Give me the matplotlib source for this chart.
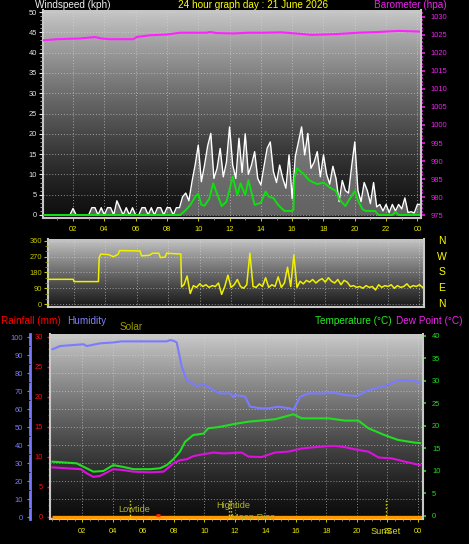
import numpy as np
import matplotlib
matplotlib.use("Agg")
import matplotlib.pyplot as plt
from matplotlib.ticker import MultipleLocator
from matplotlib import transforms

plt.rcParams['font.family'] = ['Liberation Sans', 'DejaVu Sans']

W, H = 469, 544

# ---- data ----
hour_ticks = [2, 4, 6, 8, 10, 12, 14, 16, 18, 20, 22, 24]
hour_labels = ["02", "04", "06", "08", "10", "12", "14", "16", "18", "20", "22", "00"]

# wind gust (kph), one sample every 0.2 h from 00:00
gust = [0, 0, 0, 0, 0, 0, 0, 0, 0, 0, 1.6, 0, 0, 0, 0, 0,
        1.8, 1.8, 0, 1.8, 0, 1.8, 1.8, 0, 3.5, 1.8, 0, 1.8, 0, 1.8, 0, 0,
        1.8, 1.8, 0, 1.8, 0, 1.8, 1.8, 0, 1.8, 1.8, 0, 1.8, 1.8,
        4.5, 5.4, 3.5, 8.2, 12.3, 17.2, 8.2, 12.3, 17.0, 20.1,
        9.0, 11.5, 16.4, 9.4, 13.0, 21.7, 12.3, 9.0, 18.9, 10.5,
        20.0, 10.0, 12.3, 15.6, 9.0, 7.4, 12.0, 16.4, 18.0, 10.7,
        8.0, 12.3, 9.0, 6.6, 14.8, 4.0, 14.4, 18.0, 21.7, 14.8,
        20.1, 11.5, 13.0, 15.6, 9.4, 14.8, 10.0, 7.6, 12.0, 9.0,
        3.3, 8.5, 6.0, 5.4, 12.0, 18.0, 6.0, 3.3, 8.0, 6.0,
        2.8, 8.0, 2.0, 2.6, 1.0, 2.6, 0.6, 2.6, 1.0, 2.6,
        1.5, 4.2, 0.6, 0.8, 0.5, 2.6, 2.6]
gust_t = np.arange(len(gust)) * 0.2

# average wind speed (kph)
avg_t = [0, 8.84, 9.2, 9.5, 9.8, 10.0, 10.2, 10.4, 10.7, 10.95, 11.3, 11.5, 11.8, 12.2,
         12.5, 12.7, 13.0, 13.2, 13.6, 14.0, 14.3, 14.5, 14.8, 15.1, 15.5, 15.9, 16.08,
         16.15, 16.3, 16.7, 17.1, 17.6, 18.0, 18.4, 18.8, 19.0, 19.4, 19.6, 20.0, 20.2,
         20.5, 20.7, 21.3, 21.5, 22.4, 22.6, 22.8, 24.2]
avg = [0, 0, 1.2, 2.5, 4.5, 5.2, 2.5, 2.3, 4.0, 7.8, 4.2, 2.2, 3.3, 9.4,
       4.9, 7.8, 4.9, 8.6, 2.5, 3.0, 5.8, 4.5, 4.2, 2.5, 1.0, 1.0, 1.2,
       9.1, 11.5, 10.2, 8.5, 7.6, 8.0, 6.8, 5.9, 3.9, 2.2, 3.5, 5.9, 3.5,
       1.4, 1.0, 1.0, 0, 0, 0.8, 0, 0]

# barometer (hpa)
baro_t = [0.1, 0.96, 2.45, 3.4, 3.8, 4.36, 5.85, 6.07, 6.92, 7.99, 8.84, 10.54, 10.75,
          11.18, 12.24, 13.2, 14.06, 15.3, 16.2, 17.25, 18.74, 20.2, 21.5, 22.8, 24.2]
baro = [1023.5, 1023.8, 1024.0, 1024.4, 1024.0, 1023.8, 1023.8, 1024.4, 1024.9, 1025.1,
        1025.6, 1025.6, 1025.8, 1025.5, 1025.4, 1025.6, 1025.6, 1025.7, 1025.4, 1025.0,
        1025.2, 1025.6, 1025.8, 1026.1, 1025.9]

# wind direction (deg)
dir_early_t = [0.36, 1.95, 2.0, 3.55, 3.6, 3.7, 4.2, 4.5, 4.8, 4.9, 6.2, 6.3, 6.8, 7.0,
               7.4, 7.5, 7.8, 7.9, 8.8, 8.85]
dir_early = [141, 141, 128, 128, 265, 285, 282, 270, 283, 305, 303, 275, 278, 290,
             290, 265, 268, 290, 285, 98]
# from 09:00, one sample every 0.2 h
dir_late = [110, 160, 60, 105, 95, 115, 100, 110, 95, 105,
            100, 120, 55, 100, 165, 95, 110, 140, 100, 90,
            110, 290, 100, 95, 115, 100, 150, 95, 110, 100,
            155, 95, 120, 210, 100, 280, 95, 130, 115, 135,
            125, 140, 120, 135, 145, 125, 150, 130, 120, 140,
            110, 135, 125, 100, 105, 95, 100, 90, 105, 95,
            100, 80, 110, 95, 105, 100, 110, 90, 105, 95,
            100, 115, 95, 105, 100, 110, 95]
dir_late_t = 9.0 + np.arange(len(dir_late)) * 0.2

# humidity (%)
hum_t = [0.04, 0.54, 1.3, 2.07, 2.29, 3.16, 4.03, 4.58, 7.53, 7.75, 7.97, 8.19, 8.52, 8.84,
         9.28, 9.5, 9.94, 10.59, 11.03, 11.68, 11.9, 12.01, 12.67, 13.0, 13.76, 14.2, 14.85,
         15.62, 15.84, 16.28, 16.82, 17.7, 18.57, 19.23, 20.0, 20.76, 21.85, 22.73, 23.82, 24.15]
hum = [93.2, 95, 95.5, 96, 95, 96.5, 97, 97.6, 97.6, 98.3, 98, 97, 83.5, 76,
       74, 72.4, 74, 70.5, 68.7, 68.7, 66.5, 67.8, 67, 61.3, 60.4, 60.4, 61.3,
       60.4, 59.4, 66.8, 68.7, 68.7, 69, 67.8, 67.2, 70.5, 72.8, 76, 75.7, 74.3]

# temperature (C)
temp_t = [0.04, 0.97, 1.63, 2.28, 2.72, 3.38, 4.03, 4.69, 5.34, 6.44, 7.1, 7.53, 7.97, 8.4,
          8.74, 9.28, 9.94, 10.26, 10.81, 11.47, 11.9, 12.9, 14.64, 15.84, 16.39, 18.14,
          19.23, 20.1, 20.76, 21.8, 22.7, 23.8, 24.15]
temp = [12.07, 11.85, 11.7, 10.6, 9.85, 10.0, 11.3, 10.9, 10.4, 10.4, 10.6, 11.3, 12.6, 14.3,
        16.5, 18.0, 18.3, 19.5, 19.7, 20.1, 20.4, 20.96, 21.5, 22.6, 21.7, 21.7,
        21.2, 21.2, 19.5, 18.0, 16.9, 16.3, 16.2]

# dew point (C)
dew_t = [0.04, 0.97, 1.9, 2.28, 2.72, 3.16, 4.03, 4.69, 5.34, 6.44, 7.32, 7.97, 8.4, 8.84,
         9.28, 9.72, 10.59, 11.25, 11.9, 12.45, 12.9, 13.76, 14.64, 15.5, 16.39, 17.26,
         18.14, 18.57, 19.23, 19.89, 20.76, 21.42, 22.29, 23.16, 24.15]
dew = [10.8, 10.6, 10.4, 9.5, 8.7, 8.9, 10.4, 10.2, 9.85, 9.7, 9.85, 11.7, 12.4, 12.6,
       13.3, 13.6, 14.1, 13.9, 14.0, 14.1, 13.2, 13.1, 14.1, 14.3, 15.0, 15.3,
       15.55, 15.6, 15.3, 14.8, 14.3, 13.0, 12.8, 12.07, 11.3]

# rainfall (mm)
rain_t = [0.0, 24.34]
rain = [0.0, 0.0]
rain_rate_t = [6.8, 7.1]
rain_rate = [0.3, 0.3]

event_names = ["Lowtide", "Hightide", "Moon Rise", "SunSet"]
event_hours = [5.13, 11.62, 11.75, 21.9]

# ---- helpers ----
fig = plt.figure(figsize=(W / 100, H / 100), dpi=100, facecolor='black')


def box(l, t, r, b):
    return fig.add_axes([l / W, 1 - b / H, (r - l) / W, (b - t) / H])


def shade(ax, top, bottom, gamma=1.3):
    f = np.linspace(0, 1, 300)[:, None]
    v = bottom + (top - bottom) * f ** gamma
    ax.imshow(v, extent=(0, 1, 0, 1), transform=ax.transAxes, origin='lower',
              cmap='gray', vmin=0, vmax=1, aspect='auto', zorder=0,
              interpolation='bilinear')


def grid(ax):
    ax.grid(True, which='major', color='#d8d8d8', ls=(0, (1, 2)), lw=0.7, alpha=0.6)
    ax.set_axisbelow(False)


BORDER = '#c8c8c8'
TICK = 5.4

# ---- panel 1: wind speed + barometer ----
ax1 = box(43, 10, 421, 218)
shade(ax1, 0.78, 0.06)
ax1.fill_between(gust_t, 0, gust, color='#a8a8a8', alpha=0.55, lw=0, zorder=2)
ax1.plot(gust_t, gust, color='white', lw=1.0, zorder=3)
ax1.plot(avg_t, avg, color='#11dd11', lw=1.4, zorder=4)
ax1.set_xlim(0.08, 24.23)
ax1.set_ylim(-0.74, 50.5)
ax1.yaxis.set_major_locator(MultipleLocator(5))
ax1.yaxis.set_minor_locator(MultipleLocator(1))
ax1.set_xticks(hour_ticks, hour_labels)
ax1.xaxis.set_minor_locator(MultipleLocator(1))
ax1.tick_params(axis='y', colors='#e6e6e6', labelsize=TICK, length=3, width=0.8, pad=1.5)
ax1.tick_params(axis='y', which='minor', colors='#b8b8b8', length=2, width=0.6)
ax1.tick_params(axis='x', colors='#e8e800', labelsize=TICK, length=2, width=0.6, pad=4)
ax1.tick_params(axis='x', which='minor', colors='#909090', length=1.5, width=0.6)
grid(ax1)
for s in ['top', 'right']:
    ax1.spines[s].set_visible(False)
for s in ['left', 'bottom']:
    ax1.spines[s].set_color(BORDER)
    ax1.spines[s].set_linewidth(1.5)

ax1b = ax1.twinx()
ax1b.plot(baro_t, baro, color='#ff22ff', lw=1.5)
ax1b.set_ylim(974.2, 1031.9)
ax1b.yaxis.set_major_locator(MultipleLocator(5))
ax1b.yaxis.set_minor_locator(MultipleLocator(1))
ax1b.tick_params(axis='y', colors='#ee22ee', labelsize=TICK, length=3, width=1.2, pad=4)
ax1b.tick_params(axis='y', which='minor', colors='#cc22cc', length=1.5, width=1.2)
for s in ['top', 'left', 'bottom']:
    ax1b.spines[s].set_visible(False)
ax1b.spines['right'].set_color(BORDER)
ax1b.spines['right'].set_linewidth(1.5)

# ---- panel 2: wind direction ----
ax2 = box(48, 239, 424, 307)
shade(ax2, 0.77, 0.1, 1.1)
ax2.plot(dir_early_t + list(dir_late_t), dir_early + dir_late, color='#f0f000', lw=1.1, zorder=3)
ax2.set_xlim(0.34, 24.29)
ax2.set_ylim(-17, 371)
ax2.set_yticks([0, 90, 180, 270, 360])
ax2.yaxis.set_minor_locator(MultipleLocator(30))
ax2.set_xticks(hour_ticks)
ax2.tick_params(axis='x', labelbottom=False, length=0)
ax2.tick_params(axis='y', colors='#c8c800', labelsize=TICK, length=3, width=0.8, pad=1.5)
ax2.tick_params(axis='y', which='minor', colors='#a0a000', length=2, width=0.6)
grid(ax2)
for s in ['top']:
    ax2.spines[s].set_visible(False)
for s in ['left', 'bottom', 'right']:
    ax2.spines[s].set_color(BORDER)
    ax2.spines[s].set_linewidth(1.5)
blend = transforms.blended_transform_factory(ax2.transAxes, ax2.transData)
for deg, letter in zip([360, 270, 180, 90, 0], ["N", "W", "S", "E", "N"]):
    ax2.text(1.047, deg, letter, transform=blend, color='#ffff00', fontsize=7.5,
             ha='center', va='center')

# ---- panel 3: humidity / rain / temperature / dew point ----
ax3 = box(50, 334, 423, 519)
shade(ax3, 0.79, 0.05)
ax3.plot(hum_t, hum, color='#7b7bff', lw=1.5, zorder=3)
ax3.set_xlim(-0.12, 24.34)
ax3.set_ylim(-1.1, 101.7)
ax3.yaxis.set_major_locator(MultipleLocator(10))
ax3.yaxis.set_minor_locator(MultipleLocator(5))
ax3.set_xticks(hour_ticks, hour_labels)
ax3.xaxis.set_minor_locator(MultipleLocator(0.5))
ax3.tick_params(axis='y', colors='#7b7bff', labelsize=TICK, length=2.5, width=0.8, pad=2.5)
ax3.tick_params(axis='y', which='minor', length=1.5, width=0.6)
ax3.tick_params(axis='x', colors='#e8e800', labelsize=TICK, length=2, width=0.6, pad=4.5)
ax3.tick_params(axis='x', which='minor', colors='#909090', length=1.5, width=0.6)
grid(ax3)
ax3.spines['left'].set_position(('outward', 14.4))
ax3.spines['left'].set_color('#7878ff')
ax3.spines['left'].set_linewidth(2)
ax3.spines['bottom'].set_color(BORDER)
ax3.spines['bottom'].set_linewidth(1.5)
for s in ['top', 'right']:
    ax3.spines[s].set_visible(False)

ax_r = ax3.twinx()
ax_r.yaxis.tick_left()
ax_r.yaxis.set_label_position('left')
ax_r.plot(rain_t, rain, color='#ff9900', lw=2.4, solid_capstyle='butt')
ax_r.plot(rain_rate_t, rain_rate, color='#ff2200', lw=2, solid_capstyle='butt')
ax_r.set_ylim(-0.38, 30.45)
ax_r.yaxis.set_major_locator(MultipleLocator(5))
ax_r.yaxis.set_minor_locator(MultipleLocator(1))
ax_r.tick_params(axis='y', colors='#ff1010', labelsize=TICK, length=2.5, width=1, pad=2.5)
ax_r.tick_params(axis='y', which='minor', colors='#cc1010', length=1.5, width=0.8)
for s in ['top', 'right', 'bottom']:
    ax_r.spines[s].set_visible(False)
ax_r.spines['left'].set_color(BORDER)
ax_r.spines['left'].set_linewidth(1.5)

ax_t = ax3.twinx()
ax_t.plot(temp_t, temp, color='#22dd22', lw=1.5)
ax_t.plot(dew_t, dew, color='#dd11dd', lw=1.5)
ax_t.set_ylim(-0.67, 40.44)
ax_t.yaxis.set_major_locator(MultipleLocator(5))
ax_t.yaxis.set_minor_locator(MultipleLocator(2.5))
ax_t.tick_params(axis='y', colors='#22dd22', labelsize=TICK, length=2.5, width=1.2, pad=4)
ax_t.tick_params(axis='y', which='minor', length=2.5, width=1.2)
for s in ['top', 'left', 'bottom']:
    ax_t.spines[s].set_visible(False)
ax_t.spines['right'].set_color(BORDER)
ax_t.spines['right'].set_linewidth(1.5)

# events (tides, moon, sun)
text_offsets = [(4, 9), (4, 14), (22, 2), (0, -12)]
for name, h, off in zip(event_names, event_hours, text_offsets):
    ax_t.axvline(h, ymin=0, ymax=0.103, color='#e0e000', ls=(0, (1, 1.5)), lw=1)
    col = '#d8d820' if name == "SunSet" else '#b0b428'
    ax_t.annotate(name, xy=(h, 0), xycoords=('data', 'axes fraction'),
                  xytext=off, textcoords='offset pixels', color=col,
                  fontsize=6.7, ha='center', va='center', annotation_clip=False)

# ---- titles ----
def label(x, y, s, c, ha='left', size=7.2):
    fig.text(x / W, 1 - y / H, s, color=c, fontsize=size, ha=ha, va='center')


label(35, 5.5, "Windspeed (kph)", '#f0f0f0')
label(253, 5.5, "24 hour graph day : 21 June 2026", '#ffff00', ha='center')
label(374, 5.5, "Barometer (hpa)", '#ee22ee')
label(1, 321, "Rainfall (mm)", '#ff0000')
label(67, 321, "Humidity", '#8080ff')
label(120, 326.5, "Solar", '#9a9a00')
label(315, 321, "Temperature (\u00b0C)", '#22ee22')
label(396, 321, "Dew Point (\u00b0C)", '#ee22ee')

fig.savefig('out.png', dpi=100, facecolor='black')
